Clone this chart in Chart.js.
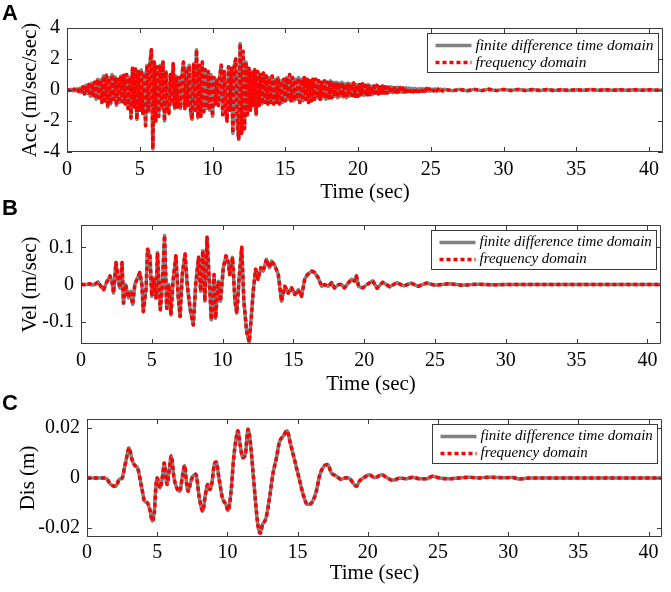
<!DOCTYPE html>
<html><head><meta charset="utf-8">
<script src="https://cdn.jsdelivr.net/npm/chart.js@4.4.0/dist/chart.umd.min.js"></script>
<style>
html,body{margin:0;padding:0;background:#fff;}
#wrap{position:relative;width:671px;height:592px;overflow:hidden;background:#fff;}
canvas{position:absolute;left:0;top:0;}
.lbl{position:absolute;left:2px;font:bold 22px "Liberation Sans",Arial,sans-serif;line-height:22px;color:#000;}
</style></head><body>
<div id="wrap">
<canvas id="cA" width="671" height="592"></canvas>
<canvas id="cB" width="671" height="592"></canvas>
<canvas id="cC" width="671" height="592"></canvas>
<div class="lbl" style="top:1.5px">A</div>
<div class="lbl" style="top:196.5px">B</div>
<div class="lbl" style="top:391.5px">C</div>
</div>
<script>
const seriesLabels = ['finite difference time domain', 'frequency domain'];
const xTicks = [0, 5, 10, 15, 20, 25, 30, 35, 40];
const xMax = 40.96;

// Panel A: acceleration (m/sec/sec), sampled every 0.1 s from 0 to 25.9 s
const accDt = 0.1;
const accVals = [
 0,0.02,-0.03,0.04,-0.05,0.06,-0.05,0.08,-0.1,0.12,
 -0.15,0.2,-0.25,0.3,-0.22,0.35,-0.4,0.45,-0.35,0.5,
 -0.6,0.7,-0.5,0.65,-0.8,0.9,-0.7,0.95,-1.1,0.8,
 -0.9,1.0,-0.6,0.85,-1.0,0.7,-0.8,0.9,-0.75,0.95,
 -0.9,1.0,-1.2,0.8,-1.8,1.4,-1.1,1.35,-1.9,1.2,
 -1.3,1.3,-1.5,1.1,-2.3,1.6,-1.4,1.7,2.6,-3.8,
 1.8,-2.0,1.5,-1.7,1.6,-1.2,1.8,-2.0,1.2,-1.4,
 -1.5,1.0,-0.9,1.7,-1.2,0.9,-1.1,0.8,-1.2,0.9,
 1.8,-1.2,1.4,-1.0,1.6,-1.5,-1.9,1.7,-1.3,2.6,
 -1.8,1.6,-1.7,1.8,-1.4,1.3,-1.2,1.2,-1.3,1.0,
 -1.7,0.8,-0.9,0.7,-1.0,0.9,1.6,-1.6,1.2,-1.4,
 -2.0,1.5,-1.3,1.4,-2.8,1.6,2.0,-2.2,-3.2,3.0,
 -2.8,2.5,-2.5,1.8,-1.6,1.4,-1.3,1.2,-1.0,1.3,
 -1.6,1.2,-1.0,1.0,-0.9,1.1,-0.8,0.9,-0.9,0.8,
 -0.8,0.9,-0.9,0.7,-0.8,0.8,-0.9,0.6,-0.8,0.7,
 -0.7,0.8,-0.6,1.0,-0.7,0.8,-0.7,0.7,-0.6,0.8,
 -0.8,0.7,-0.7,0.8,-0.6,0.7,-0.8,0.6,-0.7,0.7,
 -0.6,0.7,-0.5,0.6,-0.6,0.5,-0.5,0.6,-0.6,0.5,
 -0.5,0.6,-0.5,0.5,-0.4,0.5,-0.5,0.45,-0.4,0.5,
 -0.45,0.4,-0.5,0.45,-0.4,0.4,-0.35,0.45,-0.4,0.35,
 -0.4,0.35,-0.3,0.4,-0.35,0.3,-0.3,0.35,-0.3,0.25,
 -0.3,0.25,-0.2,0.3,-0.25,0.2,-0.2,0.25,-0.2,0.2,
 -0.2,0.18,-0.15,0.2,-0.18,0.15,-0.15,0.18,-0.12,0.15,
 -0.15,0.12,-0.12,0.15,-0.1,0.12,-0.1,0.1,-0.12,0.1,
 -0.1,0.08,-0.1,0.1,-0.08,0.08,-0.07,0.09,-0.08,0.07,
 -0.07,0.06,-0.06,0.07,-0.05,0.06,-0.06,0.05,-0.06,0.05
];
const accTailTime = [26.5,27,27.5,28,28.5,29,29.5,30,30.5,31,31.5,32,32.5,33,33.5,34,34.5,35,35.5,36,36.5,37,37.5,38,38.5,39,39.5,40,40.5,41];
const accTailVals = [-0.05,0.04,-0.05,0.04,-0.04,0.05,-0.04,0.04,-0.03,0.04,-0.03,0.03,-0.03,0.03,-0.03,0.02,-0.03,0.02,-0.02,0.03,-0.02,0.02,-0.02,0.02,-0.02,0.02,-0.01,0.02,-0.01,0];

// Panel B: velocity (m/sec)
const velTime = [0,0.4,0.63,0.8,1.0,1.2,1.4,1.6,1.8,2.05,2.2,2.3,2.47,2.64,2.75,2.9,3.0,3.15,3.35,3.5,3.65,3.8,4.0,4.15,4.3,4.4,4.6,4.7,4.87,5.0,5.1,5.3,5.4,5.6,5.75,5.9,6.05,6.2,6.35,6.5,6.7,6.87,7.0,7.15,7.35,7.5,7.7,7.93,8.1,8.3,8.45,8.6,8.75,8.9,9.1,9.2,9.4,9.5,9.7,9.85,10.05,10.24,10.4,10.5,10.7,10.87,11.0,11.17,11.35,11.5,11.7,11.88,12.04,12.16,12.33,12.5,12.7,12.87,13.1,13.3,13.45,13.7,13.93,14.16,14.4,14.63,14.87,15.1,15.34,15.57,15.8,16.0,16.3,16.5,16.75,17.0,17.2,17.46,17.7,17.9,18.2,18.4,18.6,18.9,19.1,19.3,19.45,19.6,19.9,20.2,20.6,20.9,21.3,21.8,22.3,22.8,23.3,23.8,24.4,25.0,26,27,28,29,30,32,35,38,41];
const velVals = [0,0,0.002,-0.002,0.001,0.007,-0.005,-0.014,0.005,0.023,0.005,-0.023,0.059,0.009,-0.01,0.059,-0.05,0,-0.036,-0.018,-0.054,0,0.018,0.032,0,-0.073,-0.01,0.095,0.077,-0.032,0.018,-0.036,0.086,-0.068,0,0.132,-0.064,0,-0.082,0.009,0.077,-0.036,-0.086,0.027,0.082,0,-0.064,-0.109,0,0.073,-0.018,0.091,-0.045,0.127,-0.018,-0.095,0.027,-0.091,0.009,-0.045,0.045,0.077,0.059,0.027,0.073,-0.045,-0.077,0.018,0.1,-0.045,-0.127,-0.155,-0.082,-0.018,0.041,0.014,0.045,0.036,0.068,0.045,0.063,0.05,0.027,-0.045,-0.005,-0.023,-0.009,-0.027,-0.014,-0.032,0.014,0.027,0.036,0.032,0.018,-0.005,0,-0.005,0.005,-0.009,0,0,-0.009,0.005,0.014,0.009,0.023,-0.005,-0.009,0,0.01,-0.01,0.006,-0.006,0.005,-0.004,0.004,-0.005,0.004,-0.002,0.002,-0.002,0.001,-0.001,0,0,0,0,0];

// Panel C: displacement (m)
const disTime = [0,1.1,1.35,1.7,2.06,2.3,2.5,2.65,2.8,3.0,3.2,3.4,3.6,3.9,4.1,4.3,4.5,4.65,4.8,4.9,5.0,5.2,5.4,5.5,5.7,5.85,6.0,6.2,6.4,6.6,6.8,6.95,7.1,7.2,7.4,7.55,7.75,8.0,8.25,8.4,8.6,8.75,8.9,9.05,9.2,9.4,9.65,9.9,10.05,10.25,10.45,10.6,10.75,10.9,11.1,11.28,11.47,11.64,11.8,12.0,12.17,12.34,12.5,12.75,13.0,13.24,13.5,13.7,14.0,14.25,14.5,14.8,15.1,15.4,15.7,16.0,16.3,16.6,16.9,17.15,17.4,17.75,18.1,18.45,18.7,19.05,19.2,19.4,19.8,20.1,20.5,21.0,21.4,21.8,22.3,22.7,23.2,23.7,24.2,24.6,25.1,25.8,26.5,27.2,27.9,28.6,29.8,30.3,30.8,31.5,35,41];
const disVals = [0,0,-0.0001,-0.0026,-0.0033,-0.0005,0,0.0035,0.0075,0.012,0.0075,0.005,0.004,-0.0039,-0.0092,-0.0099,-0.0132,-0.0172,-0.0132,-0.0039,0,-0.004,0.0015,0.006,-0.0026,0.0028,0.0088,0,-0.004,-0.0053,0.0008,0.005,-0.0026,-0.0053,-0.0013,0.0008,0.0015,-0.0079,-0.0132,-0.0079,-0.0026,-0.0046,-0.002,0.005,0.0064,0,-0.008,-0.0106,-0.013,-0.006,0.008,0.0148,0.0188,0.0135,0.0081,0.0094,0.0194,0.0141,0.0041,-0.0092,-0.0186,-0.022,-0.0186,-0.016,-0.008,0.0015,0.0081,0.0141,0.0168,0.0188,0.0135,0.0068,0.0001,-0.0066,-0.0106,-0.0099,-0.006,0.0015,0.0048,0.0054,0.0021,0.0008,-0.0005,0.0001,-0.0002,-0.0027,-0.0033,-0.0013,0.0004,0.0013,0.0001,0.0013,0,-0.0009,0,-0.0003,0.0003,-0.0003,-0.0003,0.0007,0,-0.0003,0,0.0003,0,0.0003,0.0001,0.0002,-0.0004,0,0,0];

const accYTicks = [-4, -2, 0, 2, 4];
const velYTicks = [-0.1, 0, 0.1];
const disYTicks = [-0.02, 0, 0.02];

function pairs(ts, vs) {
  const n = Math.min(ts.length, vs.length);
  const out = [];
  for (let i = 0; i < n; i++) out.push({x: ts[i], y: vs[i]});
  return out;
}
const accPts = accVals.map((v, i) => ({x: Math.round(i * accDt * 100) / 100, y: v})).concat(pairs(accTailTime, accTailVals));
const velPts = pairs(velTime, velVals);
const disPts = pairs(disTime, disVals);

const SERIF = '"Liberation Serif","Times New Roman",Times,serif';

function makePanel(id, pts, yMin, yMax, yTicks, yTitle, area, xTitleCenter, yTitleCenter, tickPad, smooth, legendFont) {
  const H = xTitleCenter + 10.5 - area.bottom;
  const framePlugin = {
    id: 'frame' + id,
    afterDatasetsDraw(chart) {
      const {ctx, chartArea: ca, scales} = chart;
      const xs = scales.x, ys = scales.y;
      ctx.save();
      ctx.strokeStyle = '#3a3a3a';
      ctx.lineWidth = 1;
      ctx.setLineDash([]);
      ctx.beginPath();
      ctx.rect(ca.left + 0.5, ca.top + 0.5, ca.right - ca.left - 1, ca.bottom - ca.top - 1);
      xs.ticks.forEach(t => {
        const px = Math.round(xs.getPixelForValue(t.value)) + 0.5;
        ctx.moveTo(px, ca.bottom); ctx.lineTo(px, ca.bottom - 5);
        ctx.moveTo(px, ca.top); ctx.lineTo(px, ca.top + 5);
      });
      ys.ticks.forEach(t => {
        const py = Math.round(ys.getPixelForValue(t.value)) + 0.5;
        ctx.moveTo(ca.left, py); ctx.lineTo(ca.left + 5, py);
        ctx.moveTo(ca.right, py); ctx.lineTo(ca.right - 5, py);
      });
      ctx.stroke();
      ctx.restore();
    },
    afterDraw(chart) {
      const {ctx, chartArea: ca} = chart;
      const ds = seriesLabels.map(l => chart.data.datasets.find(d => d.label === l));
      ctx.save();
      ctx.font = 'italic ' + legendFont + 'px ' + SERIF;
      const tw = Math.max(...ds.map(d => ctx.measureText(d.label).width));
      const w = Math.round(48 + tw + 5), h = 39;
      const bx = Math.round(ca.right - 5 - w) + 0.5, by = Math.round(ca.top + 5) + 0.5;
      ctx.fillStyle = '#fff';
      ctx.fillRect(bx, by, w, h);
      ctx.strokeStyle = '#3a3a3a';
      ctx.lineWidth = 1;
      ctx.strokeRect(bx, by, w, h);
      const rows = [by + 12, by + 29];
      ds.forEach((d, i) => {
        ctx.beginPath();
        ctx.strokeStyle = d.borderColor;
        ctx.lineWidth = d.borderWidth;
        ctx.lineCap = 'butt';
        ctx.setLineDash(d.borderDash || []);
        ctx.moveTo(bx + 8, rows[i]); ctx.lineTo(bx + 44, rows[i]);
        ctx.stroke();
        ctx.setLineDash([]);
        ctx.fillStyle = '#000';
        ctx.textBaseline = 'middle';
        ctx.textAlign = 'left';
        ctx.fillText(d.label, bx + 48, rows[i]);
      });
      ctx.restore();
    }
  };
  const common = {pointRadius: 0, borderJoinStyle: 'round', borderCapStyle: 'butt',
                  tension: smooth ? 0.3 : 0, cubicInterpolationMode: smooth ? 'monotone' : 'default'};
  return new Chart(document.getElementById(id), {
    type: 'line',
    data: {
      datasets: [
        Object.assign({label: seriesLabels[0], data: pts, borderColor: '#808080', borderWidth: 3.5, order: 1}, common),
        Object.assign({label: seriesLabels[1], data: pts, borderColor: '#ff0000', borderWidth: 3.5, borderDash: [4, 3], order: 0}, common)
      ]
    },
    options: {
      responsive: false,
      animation: false,
      events: [],
      layout: {padding: {left: 0, top: area.top, right: 671 - area.right, bottom: 592 - area.bottom - H}},
      plugins: {legend: {display: false}, tooltip: {enabled: false}},
      scales: {
        x: {
          type: 'linear', min: 0, max: xMax,
          afterBuildTicks: s => { s.ticks = xTicks.map(v => ({value: v})); },
          afterFit: s => { s.height = H; },
          grid: {display: false, drawTicks: false},
          border: {display: false},
          ticks: {font: {family: SERIF, size: 20}, color: '#000', padding: tickPad, maxRotation: 0, autoSkip: false,
                  callback: v => String(v)},
          title: {display: true, text: 'Time (sec)', color: '#000', font: {family: SERIF, size: 21, lineHeight: 1}, padding: {top: 0, bottom: 0}}
        },
        y: {
          type: 'linear', min: yMin, max: yMax,
          afterBuildTicks: s => { s.ticks = yTicks.map(v => ({value: v})); },
          afterFit: s => { s.width = area.left; },
          grid: {display: false, drawTicks: false},
          border: {display: false},
          ticks: {font: {family: SERIF, size: 20}, color: '#000', padding: 7, autoSkip: false, callback: v => String(v)},
          title: {display: true, text: yTitle, color: '#000', font: {family: SERIF, size: 21, lineHeight: 1}, padding: {top: yTitleCenter - 10.5, bottom: 0}}
        }
      }
    },
    plugins: [framePlugin]
  });
}

makePanel('cA', accPts, -4, 4, accYTicks, 'Acc (m/sec/sec)', {left: 67, top: 28, right: 663, bottom: 152}, 192.5, 30, 6, false, 15.5);
makePanel('cB', velPts, -0.16, 0.16, velYTicks, 'Vel (m/sec)', {left: 81, top: 225, right: 661, bottom: 344}, 384.5, 30, 5, false, 15);
makePanel('cC', disPts, -0.0235, 0.0235, disYTicks, 'Dis (m)', {left: 87, top: 419, right: 662, bottom: 537}, 573, 28.5, 4, true, 15);
</script>
</body></html>
